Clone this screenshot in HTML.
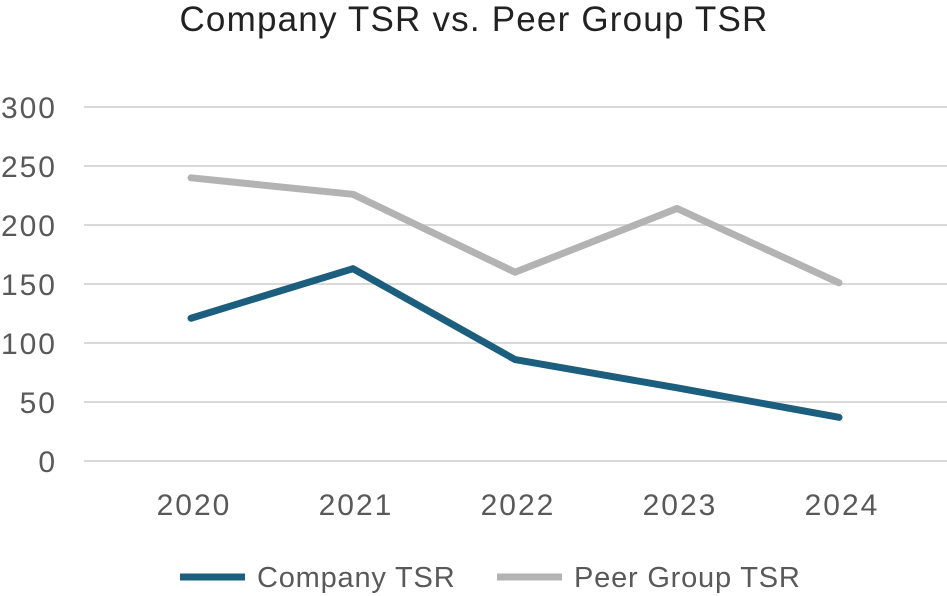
<!DOCTYPE html>
<html><head><meta charset="utf-8"><style>
html,body{margin:0;padding:0;background:#fff;}
svg{display:block;font-family:"Liberation Sans",sans-serif;}
</style></head><body>
<svg id="chart" width="947" height="596">
<text x="474" y="31" text-anchor="middle" font-size="35" letter-spacing="1.2" fill="#222">Company TSR vs. Peer Group TSR</text>
<g id="grid"></g><g id="yt"></g><g id="xt"></g><g id="series"></g>
<g>
<line x1="180" y1="577" x2="245" y2="577" stroke="#1b5e7e" stroke-width="7"/>
<text x="257" y="587" font-size="29" letter-spacing="0.8" fill="#595959">Company TSR</text>
<line x1="497" y1="577" x2="562" y2="577" stroke="#b3b3b3" stroke-width="7"/>
<text x="574" y="587" font-size="29" letter-spacing="0.8" fill="#595959">Peer Group TSR</text>
</g>
</svg>
<script>
const categories=["2020","2021","2022","2023","2024"];
const companyTSR=[121,163,86,62,37];
const peerTSR=[240,226,160,214,151];
const yTicks=[0,50,100,150,200,250,300];
const NS="http://www.w3.org/2000/svg";
const y=v=>461-v*(354/300);
const x=i=>191+i*162;
function mk(t,a,p){const e=document.createElementNS(NS,t);for(const k in a)e.setAttribute(k,a[k]);p.appendChild(e);return e;}
const grid=document.getElementById('grid'),yt=document.getElementById('yt'),xt=document.getElementById('xt'),ser=document.getElementById('series');
yTicks.forEach(v=>{
 const l=mk('line',{x1:84,x2:947,y1:y(v),y2:y(v),stroke:'#d9d9d9','stroke-width':2},grid);
 
 
 const t=mk('text',{x:57,y:y(v)+11,'text-anchor':'end','font-size':30,'letter-spacing':2,fill:'#595959'},yt);
 t.textContent=v;
 
 
});
categories.forEach((c,i)=>{
 const t=mk('text',{x:x(i)+3,y:515,'text-anchor':'middle','font-size':30,'letter-spacing':2,fill:'#595959'},xt);
 t.textContent=c;
 
 
});
function line(vals,color,name){
 const p=mk('polyline',{points:vals.map((v,i)=>x(i)+','+y(v)).join(' '),fill:'none',stroke:color,'stroke-width':7,'stroke-linejoin':'round','stroke-linecap':'round'},ser);
 
 
}
line(peerTSR,'#b3b3b3','peer-tsr-line');
line(companyTSR,'#1b5e7e','company-tsr-line');
</script>
</body></html>
